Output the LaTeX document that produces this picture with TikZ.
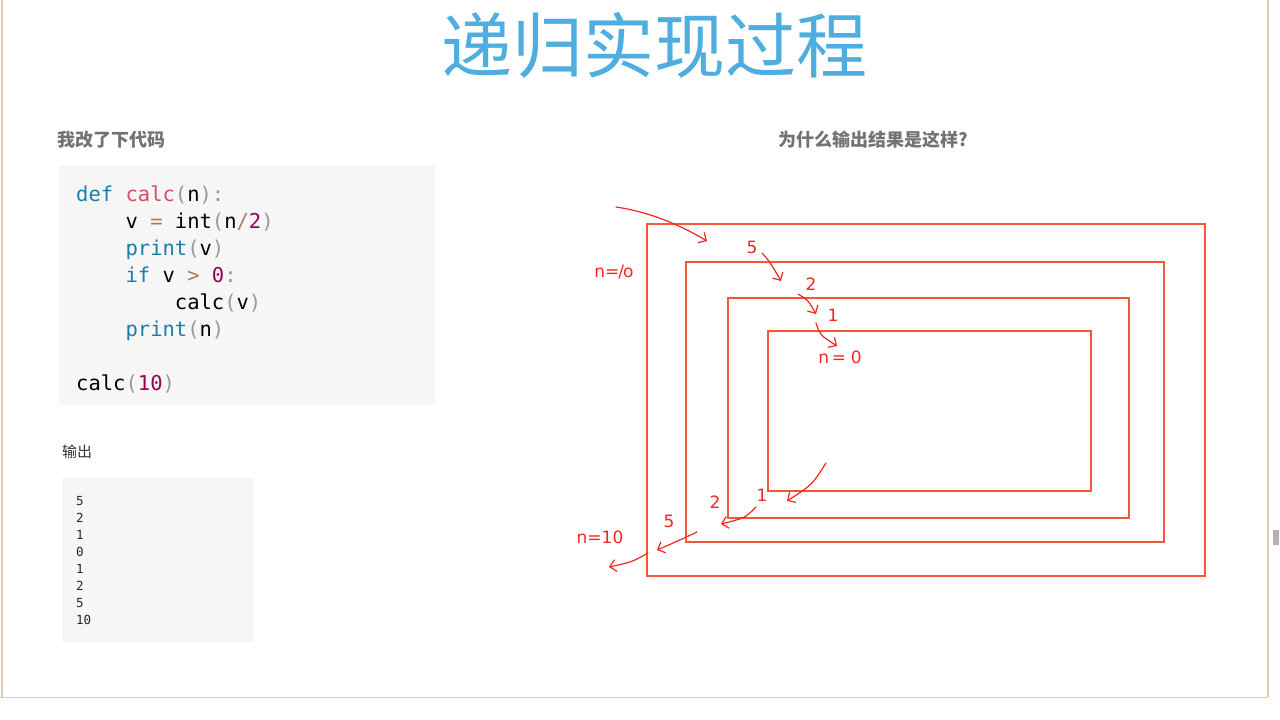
\documentclass[tikz,border=0pt]{standalone}
\usepackage{fontspec}
\newfontfamily\cjk{Noto Sans CJK SC}
\newfontfamily\mono{DejaVu Sans Mono}
\newfontfamily\hand{DejaVu Sans}
\usetikzlibrary{arrows.meta}
\definecolor{ttl}{HTML}{4DAEDF}
\definecolor{red1}{HTML}{F2583A}
\definecolor{pen}{HTML}{F0281E}
\definecolor{kw}{HTML}{1A7FA8}
\definecolor{fn}{HTML}{DD4A68}
\definecolor{num}{HTML}{990055}
\definecolor{op}{HTML}{A67F59}
\definecolor{pun}{HTML}{999999}
\definecolor{codebg}{HTML}{F6F6F6}
\definecolor{tan}{HTML}{E6C9A8}
\tikzset{
  box/.style={draw=red1, line width=1.3pt},
  ink/.style={pen, line width=1.2pt, line cap=round, -{Straight Barb[length=6pt,width=12pt]}},
  inktext/.style={text=pen, font=\hand\fontsize{17}{17}\selectfont, inner sep=0pt},
  codeline/.style={anchor=base west, inner sep=0pt, font=\mono\fontsize{20.5}{20.5}\selectfont},
  outline/.style={anchor=base west, inner sep=0pt, font=\mono\fontsize{12.5}{12.5}\selectfont, text=black!85},
  head/.style={font=\cjk\bfseries\fontsize{18}{18}\selectfont, text=black!55, inner sep=0pt}
}
\begin{document}
\begin{tikzpicture}[x=1pt,y=-1pt]
\useasboundingbox (0,0) rectangle (1280,720);
\fill[white] (0,0) rectangle (1280,720);
\draw[tan, line width=1.5pt] (2,0) -- (2,697);
\draw[tan, line width=1.5pt] (1268,0) -- (1268,697);
\draw[tan, line width=1pt] (0,697) -- (1268,697);
\fill[black!30] (1273,530) rectangle (1279,545);
\node[text=ttl, font=\cjk\fontsize{71}{71}\selectfont, inner sep=0pt] (title) at (654,45) {递归实现过程};
\node[head, anchor=west] (h1) at (57,140) {我改了下代码};
\node[head] (h2) at (873,140) {为什么输出结果是这样?};
\fill[codebg] (59,166) rectangle (435,405);
\node[codeline] (c1) at (76,201) {\textcolor{kw}{def} \textcolor{fn}{calc}\textcolor{pun}{(}n\textcolor{pun}{):}};
\node[codeline] (c2) at (76,228) {\phantom{xxxx}v \textcolor{op}{=} int\textcolor{pun}{(}n\textcolor{op}{/}\textcolor{num}{2}\textcolor{pun}{)}};
\node[codeline] (c3) at (76,255) {\phantom{xxxx}\textcolor{kw}{print}\textcolor{pun}{(}v\textcolor{pun}{)}};
\node[codeline] (c4) at (76,282) {\phantom{xxxx}\textcolor{kw}{if} v \textcolor{op}{>} \textcolor{num}{0}\textcolor{pun}{:}};
\node[codeline] (c5) at (76,309) {\phantom{xxxxxxxx}calc\textcolor{pun}{(}v\textcolor{pun}{)}};
\node[codeline] (c6) at (76,336) {\phantom{xxxx}\textcolor{kw}{print}\textcolor{pun}{(}n\textcolor{pun}{)}};
\node[codeline] (c7) at (76,390) {calc\textcolor{pun}{(}\textcolor{num}{10}\textcolor{pun}{)}};
\node[font=\cjk\fontsize{15}{15}\selectfont, text=black!80, anchor=west, inner sep=0pt] (h3) at (62,452) {输出};
\fill[codebg] (62,478) rectangle (254,642);
\foreach \v [count=\i from 0] in {5,2,1,0,1,2,5,10}
  \node[outline] (o\i) at (76,505+17*\i) {\v};
\draw[box] (647,224) rectangle (1205,576);
\draw[box] (686,262) rectangle (1164,542);
\draw[box] (728,298) rectangle (1129,518);
\draw[box] (768,331) rectangle (1091,491);
% handwriting
\draw[ink] (616,207) .. controls (650,212) and (680,225) .. (707,241);
\node[inktext] (n10a) at (614,272) {n=\kern-1pt/\kern-1pt o};
\node[inktext] (t5a) at (752,247) {5};
\draw[ink] (762,253) .. controls (770,262) .. (781,281);
\node[inktext] (t2a) at (811,284) {2};
\draw[ink] (798,294) .. controls (808,300) .. (816,314);
\node[inktext] (t1a) at (833,315) {1};
\draw[ink] (816,323) .. controls (820,335) .. (837,346);
\node[inktext] (n0) at (840,357) {n\,=\;0};
\draw[ink] (826,463) .. controls (812,485) .. (787,501);
\node[inktext] (t1b) at (762,495) {1};
\node[inktext] (t2b) at (715,502) {2};
\draw[ink] (756,507) .. controls (745,518) .. (721,524);
\node[inktext] (t5b) at (669,521) {5};
\draw[ink] (697,532) .. controls (680,540) .. (657,550);
\node[inktext] (n10b) at (600,537) {n=10};
\draw[ink] (648,553) .. controls (632,562) .. (609,567);
\end{tikzpicture}
\end{document}
